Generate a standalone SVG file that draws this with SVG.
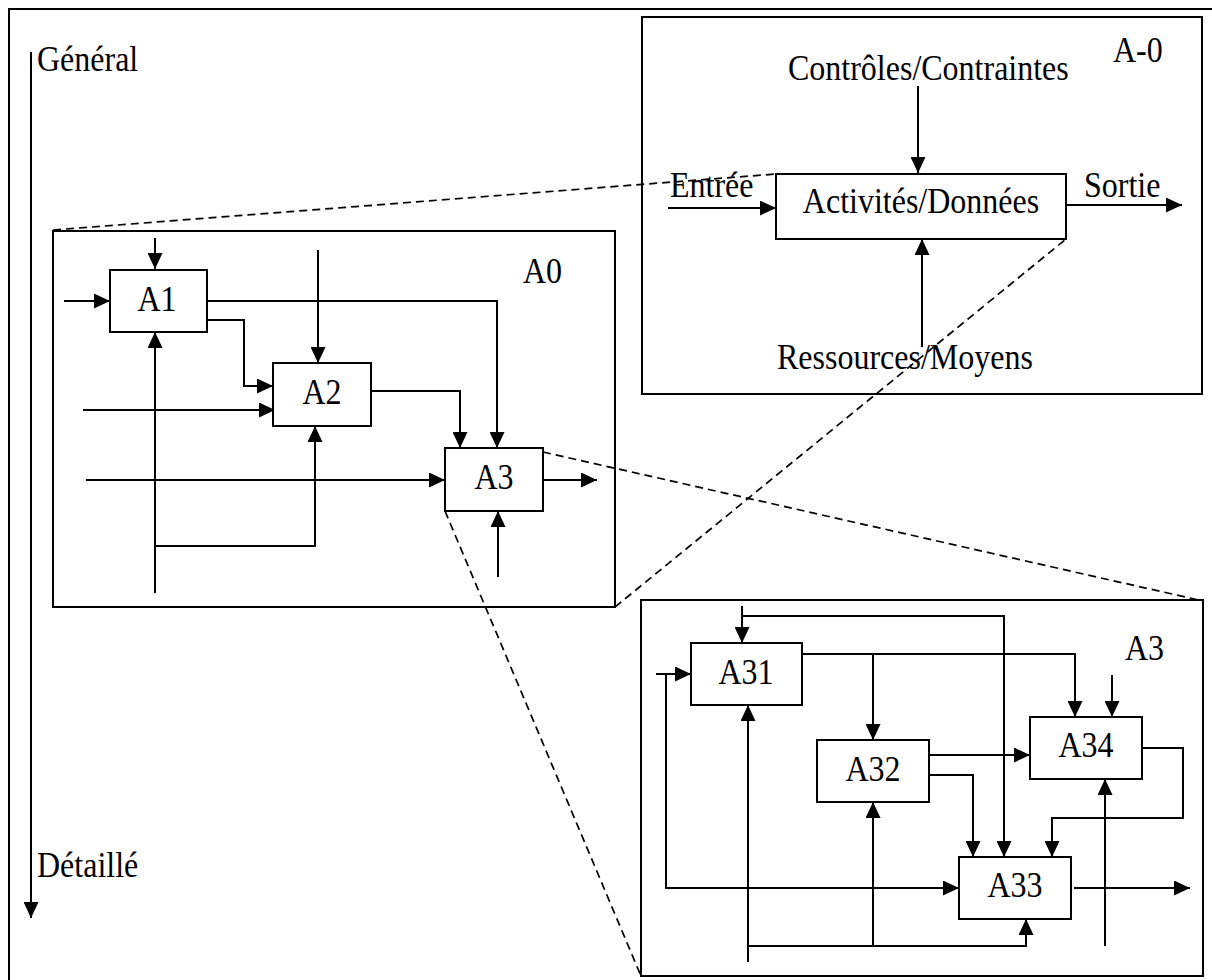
<svg xmlns="http://www.w3.org/2000/svg" width="1212" height="980" viewBox="0 0 1212 980">
<style>
text{font-family:"Liberation Serif","Times New Roman",serif;font-size:32px;fill:#000}
.c{text-anchor:middle}
.box{fill:#fff;stroke:#000;stroke-width:2}
.frame{fill:none;stroke:#000;stroke-width:2}
.ar{fill:none;stroke:#000;stroke-width:2;marker-end:url(#ah)}
.ds{fill:none;stroke:#000;stroke-width:1.7;stroke-dasharray:8 5}
</style>
<defs>
<marker id="ah" markerUnits="userSpaceOnUse" markerWidth="17" markerHeight="15" refX="16" refY="7.5" orient="auto">
<path d="M0,0 L16,7.5 L0,15 z" fill="#000"/>
</marker>
</defs>
<rect x="9" y="9" width="1220" height="990" class="frame"/>
<g id="axis">
<line x1="31" y1="52" x2="31" y2="918" class="ar"/>
<text transform="translate(37 71) scale(1 1.1)">Général</text>
<text transform="translate(37 877) scale(1 1.1)">Détaillé</text>
</g>
<g id="frameA-0">
<rect x="642" y="17" width="560" height="377" class="frame"/>
<text transform="translate(1113 62) scale(1 1.1)">A-0</text>
</g>
<g id="frameA0">
<rect x="53" y="231" width="562" height="376" class="frame"/>
<text transform="translate(523 283) scale(1 1.1)">A0</text>
</g>
<g id="frameA3">
<rect x="641" y="600" width="562" height="376" class="frame"/>
<text transform="translate(1125 660) scale(1 1.1)">A3</text>
</g>
<g id="connectors">
<line x1="918" y1="86" x2="918" y2="173" class="ar"/>
<line x1="668" y1="208" x2="776" y2="208" class="ar"/>
<line x1="1066" y1="205" x2="1182" y2="205" class="ar"/>
<line x1="922" y1="347" x2="922" y2="239" class="ar"/>
<line x1="155" y1="238" x2="155" y2="269" class="ar"/>
<line x1="64" y1="301" x2="110" y2="301" class="ar"/>
<polyline points="207,301 497,301 497,448" class="ar"/>
<polyline points="207,320 244,320 244,386 273,386" class="ar"/>
<line x1="318" y1="250" x2="318" y2="363" class="ar"/>
<line x1="83" y1="410" x2="275" y2="410" class="ar"/>
<polyline points="371,391 460,391 460,448" class="ar"/>
<line x1="86" y1="480" x2="445" y2="480" class="ar"/>
<line x1="543" y1="480" x2="597" y2="480" class="ar"/>
<line x1="498" y1="577" x2="498" y2="511" class="ar"/>
<line x1="155" y1="593" x2="155" y2="332" class="ar"/>
<polyline points="155,546 315,546 315,426" class="ar"/>
<line x1="742" y1="606" x2="742" y2="643" class="ar"/>
<polyline points="742,616 1004,616 1004,857" class="ar"/>
<line x1="656" y1="674" x2="691" y2="674" class="ar"/>
<polyline points="666,674 666,888 959,888" class="ar"/>
<polyline points="802,654 1075,654 1075,717" class="ar"/>
<line x1="873" y1="654" x2="873" y2="740" class="ar"/>
<line x1="1112" y1="675" x2="1112" y2="717" class="ar"/>
<line x1="929" y1="755" x2="1030" y2="755" class="ar"/>
<polyline points="929,775 973,775 973,857" class="ar"/>
<polyline points="1142,748 1183,748 1183,818 1052,818 1052,857" class="ar"/>
<line x1="748" y1="962" x2="748" y2="705" class="ar"/>
<polyline points="748,946 1026,946 1026,919" class="ar"/>
<line x1="873" y1="946" x2="873" y2="802" class="ar"/>
<line x1="1105" y1="946" x2="1105" y2="779" class="ar"/>
<line x1="1074" y1="888" x2="1190" y2="888" class="ar"/>
<line x1="53" y1="230" x2="776" y2="174" class="ds"/>
<line x1="615" y1="607" x2="1066" y2="239" class="ds"/>
<line x1="543" y1="452" x2="1203" y2="601" class="ds"/>
<line x1="445" y1="511" x2="641" y2="976" class="ds"/>
</g>
<g id="node-activites">
<rect x="776" y="174" width="290" height="65" class="box"/>
<text class="c" transform="translate(921 213) scale(1 1.1)">Activités/Données</text>
</g>
<g id="labels-A-0">
<text transform="translate(788 80) scale(1 1.1)">Contrôles/Contraintes</text>
<text transform="translate(670 197) scale(1 1.1)">Entrée</text>
<text transform="translate(1084 197) scale(1 1.1)">Sortie</text>
<text transform="translate(777 369) scale(1 1.1)">Ressources/Moyens</text>
</g>
<g id="node-A1">
<rect x="110" y="270" width="97" height="62" class="box"/>
<text class="c" transform="translate(157 311) scale(1 1.1)">A1</text>
</g>
<g id="node-A2">
<rect x="273" y="363" width="98" height="63" class="box"/>
<text class="c" transform="translate(322 404) scale(1 1.1)">A2</text>
</g>
<g id="node-A3">
<rect x="445" y="448" width="98" height="63" class="box"/>
<text class="c" transform="translate(494 489) scale(1 1.1)">A3</text>
</g>
<g id="node-A31">
<rect x="691" y="643" width="111" height="62" class="box"/>
<text class="c" transform="translate(746 684) scale(1 1.1)">A31</text>
</g>
<g id="node-A32">
<rect x="817" y="740" width="112" height="62" class="box"/>
<text class="c" transform="translate(873 781) scale(1 1.1)">A32</text>
</g>
<g id="node-A34">
<rect x="1030" y="717" width="112" height="62" class="box"/>
<text class="c" transform="translate(1086 757) scale(1 1.1)">A34</text>
</g>
<g id="node-A33">
<rect x="959" y="857" width="112" height="62" class="box"/>
<text class="c" transform="translate(1015 897) scale(1 1.1)">A33</text>
</g>
</svg>
